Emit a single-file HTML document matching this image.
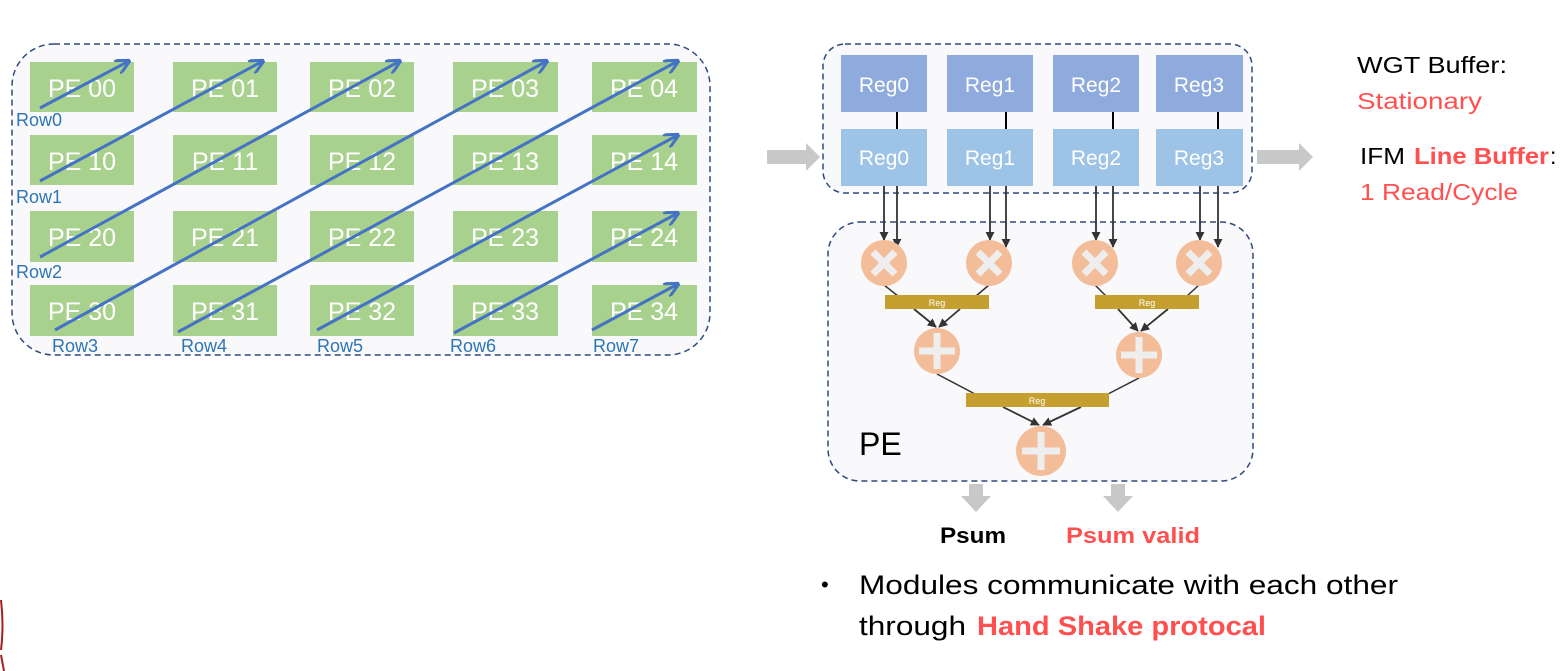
<!DOCTYPE html>
<html><head><meta charset="utf-8"><style>
html,body{margin:0;padding:0;background:#fff;}
svg{display:block;font-family:"Liberation Sans",sans-serif;}
</style></head><body>
<svg width="1565" height="671" viewBox="0 0 1565 671" xmlns="http://www.w3.org/2000/svg">
<defs>
<marker id="ab" viewBox="0 0 10 10" refX="9" refY="5" markerWidth="5" markerHeight="5" orient="auto"><path d="M0,0 L10,5 L0,10" fill="none" stroke="#4472C4" stroke-width="2"/></marker>
<marker id="ak" viewBox="0 0 10 10" refX="9" refY="5" markerWidth="5" markerHeight="5" orient="auto"><path d="M0,0 L10,5 L0,10 z" fill="#333"/></marker>
</defs>
<rect x="12" y="44" width="698" height="311" rx="42" fill="#F9F9FC" stroke="#2F4A7F" stroke-width="1.5" stroke-dasharray="6,4"/>
<g fill="#A9D18E">
<rect x="30" y="62" width="104" height="50"/><rect x="173" y="62" width="104" height="50"/><rect x="310" y="62" width="104" height="50"/><rect x="453" y="62" width="105" height="50"/><rect x="592" y="62" width="105" height="50"/>
<rect x="30" y="135" width="104" height="50"/><rect x="173" y="135" width="104" height="50"/><rect x="310" y="135" width="104" height="50"/><rect x="453" y="135" width="105" height="50"/><rect x="592" y="135" width="105" height="50"/>
<rect x="30" y="211" width="104" height="51"/><rect x="173" y="211" width="104" height="51"/><rect x="310" y="211" width="104" height="51"/><rect x="453" y="211" width="105" height="51"/><rect x="592" y="211" width="105" height="51"/>
<rect x="30" y="285" width="104" height="51"/><rect x="173" y="285" width="104" height="51"/><rect x="310" y="285" width="104" height="51"/><rect x="453" y="285" width="105" height="51"/><rect x="592" y="285" width="105" height="51"/>
</g>
<g fill="#fff" font-size="25" text-anchor="middle">
<text x="82" y="97">PE 00</text><text x="225" y="97">PE 01</text><text x="362" y="97">PE 02</text><text x="505" y="97">PE 03</text><text x="644" y="97">PE 04</text>
<text x="82" y="170">PE 10</text><text x="225" y="170">PE 11</text><text x="362" y="170">PE 12</text><text x="505" y="170">PE 13</text><text x="644" y="170">PE 14</text>
<text x="82" y="246">PE 20</text><text x="225" y="246">PE 21</text><text x="362" y="246">PE 22</text><text x="505" y="246">PE 23</text><text x="644" y="246">PE 24</text>
<text x="82" y="320">PE 30</text><text x="225" y="320">PE 31</text><text x="362" y="320">PE 32</text><text x="505" y="320">PE 33</text><text x="644" y="320">PE 34</text>
</g>
<g stroke="#4472C4" stroke-width="3" marker-end="url(#ab)">
<line x1="40" y1="108" x2="129" y2="61"/>
<line x1="40" y1="181" x2="263" y2="61"/>
<line x1="40" y1="257" x2="400" y2="61"/>
<line x1="55" y1="330" x2="547" y2="61"/>
<line x1="178" y1="332" x2="678" y2="61"/>
<line x1="317" y1="330" x2="678" y2="135"/>
<line x1="454" y1="333" x2="678" y2="213"/>
<line x1="592" y1="330" x2="678" y2="284"/>
</g>
<g fill="#2E75B6" font-size="18">
<text x="16" y="126">Row0</text><text x="16" y="203">Row1</text><text x="16" y="278">Row2</text>
<text x="52" y="352">Row3</text><text x="181" y="352">Row4</text><text x="317" y="352">Row5</text><text x="450" y="352">Row6</text><text x="593" y="352">Row7</text>
</g>
<polygon points="767,150 806,150 806,143 820,157 806,171 806,164 767,164" fill="#C8C8C8"/>
<polygon points="1257,150 1299,150 1299,143 1313,157 1299,171 1299,164 1257,164" fill="#C8C8C8"/>
<rect x="823" y="44" width="429" height="149" rx="22" fill="#F9F9FC" stroke="#2F4A7F" stroke-width="1.5" stroke-dasharray="6,4"/>
<g fill="#8FAADC"><rect x="841" y="55" width="86" height="57"/><rect x="947" y="55" width="86" height="57"/><rect x="1053" y="55" width="86" height="57"/><rect x="1156" y="55" width="87" height="57"/></g>
<g fill="#9DC3E6"><rect x="841" y="129" width="86" height="57"/><rect x="947" y="129" width="86" height="57"/><rect x="1053" y="129" width="86" height="57"/><rect x="1156" y="129" width="87" height="57"/></g>
<g stroke="#000" stroke-width="2"><line x1="897" y1="112" x2="897" y2="129"/><line x1="1006" y1="112" x2="1006" y2="129"/><line x1="1113" y1="112" x2="1113" y2="129"/><line x1="1218" y1="112" x2="1218" y2="129"/></g>
<g fill="#fff" font-size="21" text-anchor="middle">
<text x="884" y="92">Reg0</text><text x="990" y="92">Reg1</text><text x="1096" y="92">Reg2</text><text x="1199" y="92">Reg3</text>
<text x="884" y="165">Reg0</text><text x="990" y="165">Reg1</text><text x="1096" y="165">Reg2</text><text x="1199" y="165">Reg3</text>
</g>
<rect x="828" y="222" width="425" height="259" rx="32" fill="#F9F9FC" stroke="#2F4A7F" stroke-width="1.5" stroke-dasharray="6,4"/>
<g stroke="#333" stroke-width="1.8" marker-end="url(#ak)">
<line x1="884" y1="186" x2="884" y2="240"/><line x1="897" y1="186" x2="897" y2="247"/>
<line x1="990" y1="186" x2="990" y2="240"/><line x1="1006" y1="186" x2="1006" y2="247"/>
<line x1="1096" y1="186" x2="1096" y2="240"/><line x1="1113" y1="186" x2="1113" y2="247"/>
<line x1="1200" y1="186" x2="1200" y2="240"/><line x1="1218" y1="186" x2="1218" y2="247"/>
</g>
<g stroke="#333" stroke-width="1.5">
<line x1="884" y1="285" x2="898" y2="296"/><line x1="989" y1="285" x2="976" y2="296"/>
<line x1="1095" y1="285" x2="1106" y2="296"/><line x1="1199" y1="285" x2="1187" y2="296"/>
<line x1="937" y1="374" x2="975" y2="394"/><line x1="1139" y1="378" x2="1108" y2="394"/>
</g>
<g stroke="#333" stroke-width="1.8" marker-end="url(#ak)">
<line x1="914" y1="309" x2="936" y2="327"/><line x1="960" y1="309" x2="939" y2="327"/>
<line x1="1118" y1="309" x2="1138" y2="331"/><line x1="1168" y1="309" x2="1141" y2="331"/>
<line x1="1003" y1="407" x2="1039" y2="425"/><line x1="1081" y1="407" x2="1043" y2="425"/>
</g>
<g fill="#F4BD9A">
<circle cx="884" cy="263" r="23"/><circle cx="989" cy="263" r="23"/><circle cx="1095" cy="263" r="23"/><circle cx="1199" cy="263" r="23"/>
<circle cx="937" cy="351" r="23"/><circle cx="1139" cy="355" r="23"/><circle cx="1041" cy="451" r="25"/>
</g>
<g stroke="#EEEEEE" stroke-width="7">
<path d="M873,252 L895,274 M895,252 L873,274"/><path d="M978,252 L1000,274 M1000,252 L978,274"/>
<path d="M1084,252 L1106,274 M1106,252 L1084,274"/><path d="M1188,252 L1210,274 M1210,252 L1188,274"/>
<path d="M919,351 L955,351 M937,333 L937,369"/><path d="M1121,355 L1157,355 M1139,337 L1139,373"/>
<path d="M1022,451 L1060,451 M1041,432 L1041,470"/>
</g>
<g fill="#C5A02E"><rect x="885" y="295" width="104" height="14"/><rect x="1095" y="295" width="104" height="14"/><rect x="966" y="393" width="143" height="14"/></g>
<g fill="#fff" font-size="9" text-anchor="middle"><text x="937" y="306">Reg</text><text x="1147" y="306">Reg</text><text x="1037" y="404">Reg</text></g>
<text x="859" y="455" font-size="32" fill="#000">PE</text>
<polygon points="969,484 983,484 983,496 991,496 976,512 961,496 969,496" fill="#C8C8C8"/>
<polygon points="1111,484 1125,484 1125,496 1133,496 1118,512 1103,496 1111,496" fill="#C8C8C8"/>
<text x="940" y="543" font-size="22" font-weight="bold" fill="#000" textLength="66" lengthAdjust="spacingAndGlyphs">Psum</text>
<text x="1066" y="543" font-size="22" font-weight="bold" fill="#FF5050" textLength="134" lengthAdjust="spacingAndGlyphs">Psum valid</text>
<text x="821" y="592" font-size="22" fill="#000">•</text>
<text x="859" y="594" font-size="27" fill="#000" textLength="539" lengthAdjust="spacingAndGlyphs">Modules communicate with each other</text>
<text x="859" y="635" font-size="27" fill="#000" textLength="107" lengthAdjust="spacingAndGlyphs">through</text>
<text x="977" y="635" font-size="27" fill="#FF5050" font-weight="bold" textLength="289" lengthAdjust="spacingAndGlyphs">Hand Shake protocal</text>
<text x="1357" y="73" font-size="23" fill="#000" textLength="150" lengthAdjust="spacingAndGlyphs">WGT Buffer:</text>
<text x="1357" y="109" font-size="23" fill="#FF5050" textLength="125" lengthAdjust="spacingAndGlyphs">Stationary</text>
<text x="1360" y="164" font-size="23" fill="#000" textLength="45" lengthAdjust="spacingAndGlyphs">IFM</text>
<text x="1414" y="164" font-size="23" fill="#FF5050" font-weight="bold" textLength="135" lengthAdjust="spacingAndGlyphs">Line Buffer</text>
<text x="1550" y="164" font-size="23" fill="#000">:</text>
<text x="1360" y="200" font-size="23" fill="#FF5050" textLength="158" lengthAdjust="spacingAndGlyphs">1 Read/Cycle</text>
<path d="M1,600 Q4,625 1,650 M1,655 L4,671" stroke="#A02020" stroke-width="2" fill="none"/>
</svg>
</body></html>
